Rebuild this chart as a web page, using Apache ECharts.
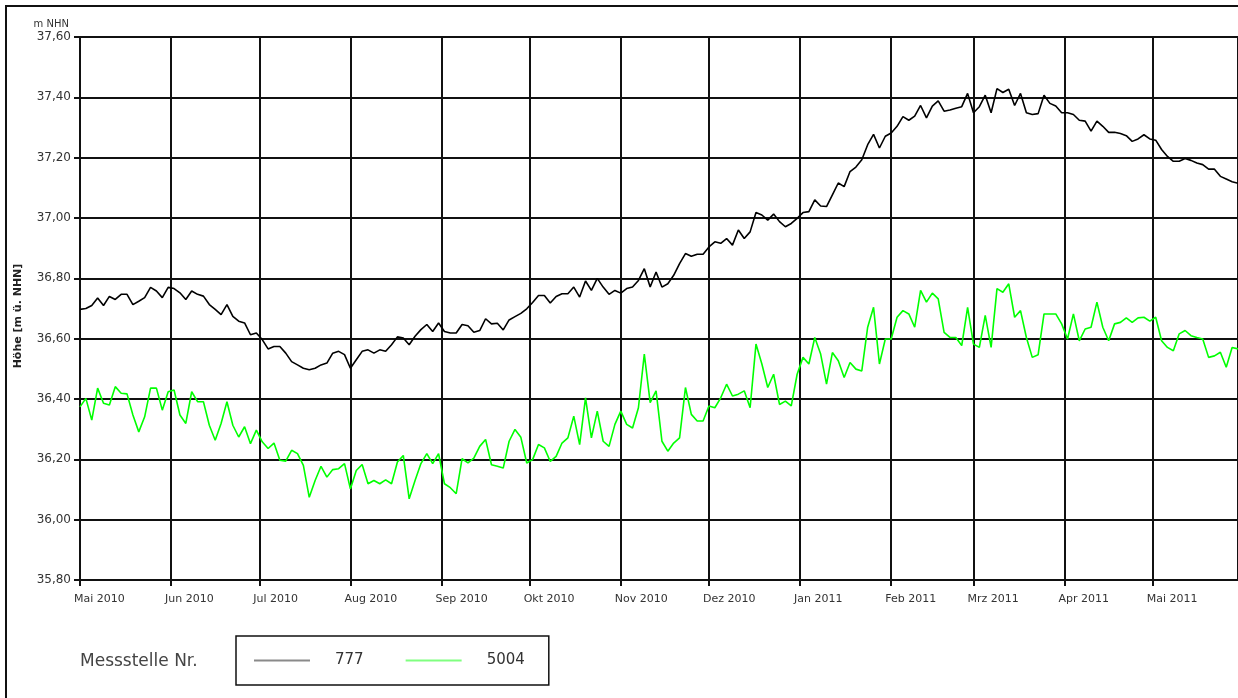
<!DOCTYPE html>
<html>
<head>
<meta charset="utf-8">
<title>Messstelle 777 / 5004</title>
<script src="https://cdn.jsdelivr.net/npm/echarts@6/dist/echarts.min.js"></script>
<style>
  html, body { margin: 0; padding: 0; background: #fff; }
  #chart { width: 1238px; height: 698px; }
</style>
</head>
<body>
<div id="chart"></div>
<script>
// Messwerte alle 2 Tage ab 1. Mai 2010 (m NHN)
const startYear = 2010;
const startMonth = 4; // Mai
const stepDays = 2;
const monthNames = ['Jan', 'Feb', 'Mrz', 'Apr', 'Mai', 'Jun', 'Jul', 'Aug', 'Sep', 'Okt', 'Nov', 'Dez'];
const yTicks = [35.8, 37.6, 0.2]; // min, max, interval

const level777 = [
  36.697, 36.70, 36.71, 36.735, 36.71, 36.74, 36.73, 36.747, 36.747, 36.713,
  36.724, 36.736, 36.77, 36.758, 36.736, 36.77, 36.766, 36.752, 36.73, 36.758,
  36.747, 36.741, 36.713, 36.697, 36.68, 36.713, 36.674, 36.658, 36.652, 36.613,
  36.619, 36.597, 36.566, 36.574, 36.574, 36.552, 36.524, 36.513, 36.502, 36.497,
  36.502, 36.513, 36.519, 36.552, 36.558, 36.547, 36.502, 36.53, 36.558, 36.563,
  36.552, 36.563, 36.558, 36.58, 36.606, 36.602, 36.58, 36.608, 36.63, 36.647,
  36.624, 36.652, 36.624, 36.619, 36.619, 36.647, 36.643, 36.621, 36.627, 36.666,
  36.649, 36.651, 36.629, 36.662, 36.673, 36.684, 36.699, 36.72, 36.743, 36.743,
  36.718, 36.74, 36.749, 36.749, 36.771, 36.738, 36.791, 36.76, 36.80, 36.771,
  36.747, 36.76, 36.751, 36.766, 36.771, 36.793, 36.832, 36.771, 36.821, 36.771,
  36.782, 36.81, 36.849, 36.882, 36.873, 36.88, 36.88, 36.904, 36.921, 36.916,
  36.932, 36.91, 36.96, 36.932, 36.954, 37.018, 37.01, 36.993, 37.013, 36.988,
  36.971, 36.982, 36.999, 37.018, 37.021, 37.06, 37.04, 37.038, 37.077, 37.116,
  37.104, 37.154, 37.169, 37.193, 37.243, 37.277, 37.232, 37.271, 37.282, 37.304,
  37.336, 37.324, 37.338, 37.373, 37.332, 37.371, 37.388, 37.354, 37.358, 37.364,
  37.369, 37.413, 37.349, 37.369, 37.407, 37.349, 37.429, 37.416, 37.427, 37.373,
  37.413, 37.349, 37.343, 37.346, 37.407, 37.38, 37.371, 37.349, 37.349, 37.343,
  37.324, 37.321, 37.288, 37.321, 37.304, 37.284, 37.284, 37.28, 37.273, 37.254,
  37.262, 37.276, 37.262, 37.258, 37.227, 37.204, 37.188, 37.188, 37.197, 37.191,
  37.182, 37.177, 37.162, 37.162, 37.138, 37.129, 37.12, 37.115
];

const level5004 = [
  36.374, 36.402, 36.33, 36.436, 36.386, 36.38, 36.441, 36.419, 36.417, 36.347,
  36.291, 36.341, 36.436, 36.436, 36.363, 36.424, 36.43, 36.347, 36.319, 36.424,
  36.391, 36.391, 36.313, 36.263, 36.319, 36.391, 36.313, 36.274, 36.308, 36.252,
  36.297, 36.258, 36.236, 36.254, 36.197, 36.194, 36.23, 36.219, 36.18, 36.074,
  36.13, 36.177, 36.141, 36.166, 36.169, 36.186, 36.102, 36.163, 36.183, 36.119,
  36.13, 36.119, 36.132, 36.119, 36.191, 36.213, 36.069, 36.13, 36.186, 36.219,
  36.186, 36.219, 36.119, 36.106, 36.086, 36.202, 36.188, 36.204, 36.243, 36.266,
  36.182, 36.177, 36.171, 36.26, 36.299, 36.273, 36.188, 36.199, 36.249, 36.238,
  36.193, 36.21, 36.254, 36.271, 36.343, 36.249, 36.404, 36.271, 36.36, 36.26,
  36.243, 36.316, 36.36, 36.316, 36.304, 36.371, 36.549, 36.388, 36.427, 36.26,
  36.227, 36.254, 36.271, 36.438, 36.349, 36.327, 36.327, 36.377, 36.371, 36.404,
  36.449, 36.41, 36.416, 36.427, 36.371, 36.582, 36.516, 36.438, 36.482, 36.382,
  36.393, 36.377, 36.482, 36.538, 36.516, 36.604, 36.549, 36.449, 36.554, 36.527,
  36.471, 36.521, 36.499, 36.493, 36.638, 36.704, 36.516, 36.599, 36.599, 36.671,
  36.693, 36.682, 36.638, 36.76, 36.721, 36.751, 36.732, 36.621, 36.604, 36.604,
  36.577, 36.704, 36.582, 36.571, 36.677, 36.571, 36.766, 36.754, 36.782, 36.671,
  36.693, 36.604, 36.538, 36.547, 36.682, 36.682, 36.682, 36.649, 36.599, 36.682,
  36.593, 36.632, 36.638, 36.721, 36.638, 36.593, 36.649, 36.654, 36.669, 36.654,
  36.669, 36.671, 36.658, 36.671, 36.593, 36.571, 36.56, 36.616, 36.627, 36.61,
  36.604, 36.599, 36.538, 36.543, 36.555, 36.505, 36.571, 36.566
];

const toPairs = (values) =>
  values.map((v, i) => [new Date(startYear, startMonth, 1 + i * stepDays).getTime(), v]);

const fontFamily = '"DejaVu Sans", Verdana, sans-serif';
const dayMs = 864e5;

const chart = echarts.init(document.getElementById('chart'));

const option = {
  animation: false,
  backgroundColor: '#ffffff',
  grid: { left: 80, right: 0, top: 37, bottom: 118, containLabel: false },
  xAxis: {
    type: 'time',
    min: new Date(2010, 4, 1).getTime(),
    max: new Date(2011, 4, 30).getTime(),
    minInterval: 28 * dayMs,
    maxInterval: 31 * dayMs,
    axisLine: { lineStyle: { color: '#111', width: 2 } },
    axisTick: { show: true, length: 6, lineStyle: { color: '#111', width: 2 } },
    splitLine: { show: true, lineStyle: { color: '#111', width: 2 } },
    axisLabel: {
      color: '#333',
      fontFamily,
      fontSize: 11,
      margin: 14,
      align: 'left',
      padding: [0, 0, 0, -6],
      showMaxLabel: false,
      formatter: (val) => {
        const d = new Date(val);
        return monthNames[d.getMonth()] + ' ' + d.getFullYear();
      }
    }
  },
  yAxis: {
    type: 'value',
    min: yTicks[0],
    max: yTicks[1],
    interval: yTicks[2],
    name: 'm NHN',
    nameLocation: 'end',
    nameGap: 8,
    nameTextStyle: { color: '#333', fontFamily, fontSize: 10, align: 'right', padding: [0, 11, 0, 0] },
    axisLine: { show: true, lineStyle: { color: '#111', width: 2 } },
    axisTick: { show: true, length: 6, lineStyle: { color: '#111', width: 2 } },
    splitLine: { show: true, lineStyle: { color: '#111', width: 2 } },
    axisLabel: {
      color: '#333',
      fontFamily,
      fontSize: 12,
      margin: 9,
      formatter: (v) => v.toFixed(2).replace('.', ',')
    }
  },
  legend: {
    left: 236,
    top: 636,
    padding: [17, 24, 17, 18],
    itemGap: 42,
    itemWidth: 56,
    itemHeight: 2,
    icon: 'rect',
    borderColor: '#111',
    borderWidth: 1.5,
    textStyle: { color: '#333', fontFamily, fontSize: 15, padding: [0, 0, 0, 20] },
    data: [
      { name: '777', itemStyle: { color: '#8a8a8a' } },
      { name: '5004', itemStyle: { color: '#80ff80' } }
    ]
  },
  graphic: [
    {
      type: 'rect',
      shape: { x: 6, y: 6, width: 1260, height: 720 },
      style: { fill: 'none', stroke: '#111', lineWidth: 2 },
      silent: true
    },
    {
      type: 'text',
      x: 18,
      y: 316,
      rotation: Math.PI / 2,
      style: {
        text: 'Höhe [m ü. NHN]',
        font: 'bold 11px "DejaVu Sans", sans-serif',
        fill: '#222',
        align: 'center',
        verticalAlign: 'middle'
      }
    },
    {
      type: 'text',
      x: 80,
      y: 662,
      style: {
        text: 'Messstelle Nr.',
        font: '17px "DejaVu Sans", sans-serif',
        fill: '#444',
        align: 'left',
        verticalAlign: 'middle'
      }
    }
  ],
  series: [
    {
      name: '777',
      type: 'line',
      data: toPairs(level777),
      showSymbol: false,
      lineStyle: { color: '#000', width: 1.6 },
      itemStyle: { color: '#000' },
      z: 3
    },
    {
      name: '5004',
      type: 'line',
      data: toPairs(level5004),
      showSymbol: false,
      lineStyle: { color: '#00ff00', width: 1.6 },
      itemStyle: { color: '#00ff00' },
      z: 3
    }
  ]
};

chart.setOption(option);
</script>
</body>
</html>
